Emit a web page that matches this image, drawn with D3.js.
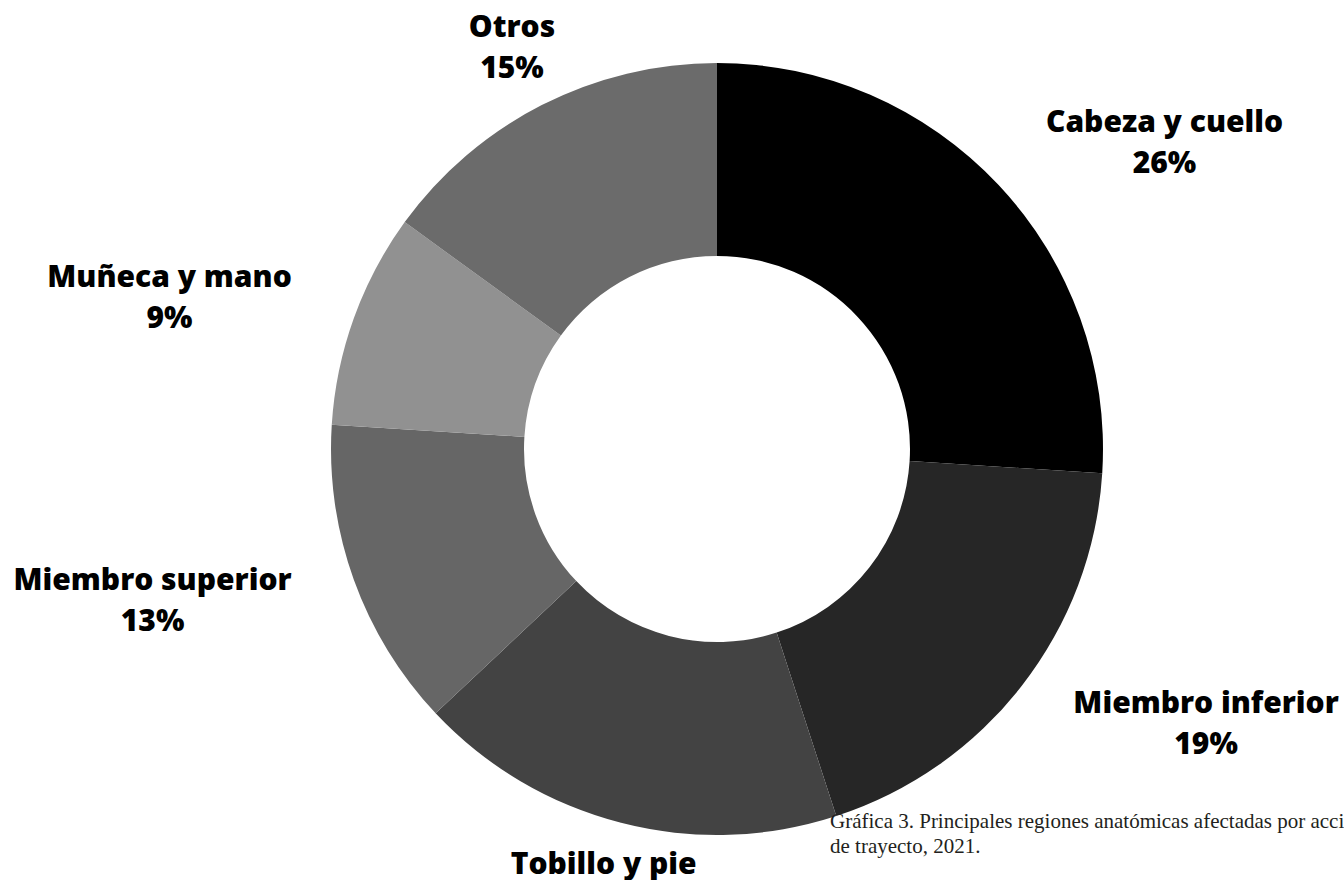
<!DOCTYPE html>
<html>
<head>
<meta charset="utf-8">
<script src="https://cdn.jsdelivr.net/npm/d3@7"></script>
<style>
  html, body { margin: 0; padding: 0; background: #ffffff; overflow: hidden; }
  svg { display: block; }
</style>
</head>
<body>
<svg id="chart" width="1344" height="880"></svg>
<script>
// Data
const categories = ["Cabeza y cuello", "Miembro inferior", "Tobillo y pie", "Miembro superior", "Muñeca y mano", "Otros"];
const values = [26, 19, 18, 13, 9, 15];
const colors = ["#000000", "#262626", "#434343", "#666666", "#919191", "#6b6b6b"];
const captionLines = ["Gráfica 3. Principales regiones anatómicas afectadas por accidentes", "de trayecto, 2021."];

// Label nudges from the label-arc centroid (layout only)
const labelNudge = [[83, 25], [94, -42], [11, -59], [-94, -28], [-77, 7], [22, 34]];

const W = 1344, H = 880;
const cx = 717, cy = 449;
const outerR = 386, innerR = 193;

const svg = d3.select("#chart");
const g = svg.append("g").attr("transform", `translate(${cx},${cy})`);

const data = categories.map((c, i) => ({ name: c, value: values[i], color: colors[i], nudge: labelNudge[i] }));

const pie = d3.pie().sort(null).value(d => d.value);
const arc = d3.arc().innerRadius(innerR).outerRadius(outerR);
const labelArc = d3.arc().innerRadius(500).outerRadius(500);

const arcs = pie(data);

g.selectAll("path.slice")
  .data(arcs)
  .enter().append("path")
  .attr("class", "slice")
  .attr("d", arc)
  .attr("fill", d => d.data.color);

const labels = g.selectAll("text.lbl")
  .data(arcs)
  .enter().append("text")
  .attr("class", "lbl")
  .attr("text-anchor", "middle")
  .attr("font-family", "'Open Sans', sans-serif")
  .attr("font-weight", 800)
  .attr("font-size", 30)
  .attr("fill", "#000")
  .attr("transform", d => {
    const [x, y] = labelArc.centroid(d);
    return `translate(${x + d.data.nudge[0]},${y + d.data.nudge[1]})`;
  });

labels.append("tspan").attr("x", 0).attr("y", 0).text(d => d.data.name);
labels.append("tspan").attr("x", 0).attr("y", 41).text(d => d.data.value + "%");

// Caption
const cap = svg.append("text")
  .attr("font-family", "'Liberation Serif', 'DejaVu Serif', serif")
  .attr("font-size", 21)
  .attr("fill", "#231f20");
captionLines.forEach((t, i) => {
  cap.append("tspan").attr("x", 830).attr("y", 828 + i * 25).text(t);
});
</script>
</body>
</html>
